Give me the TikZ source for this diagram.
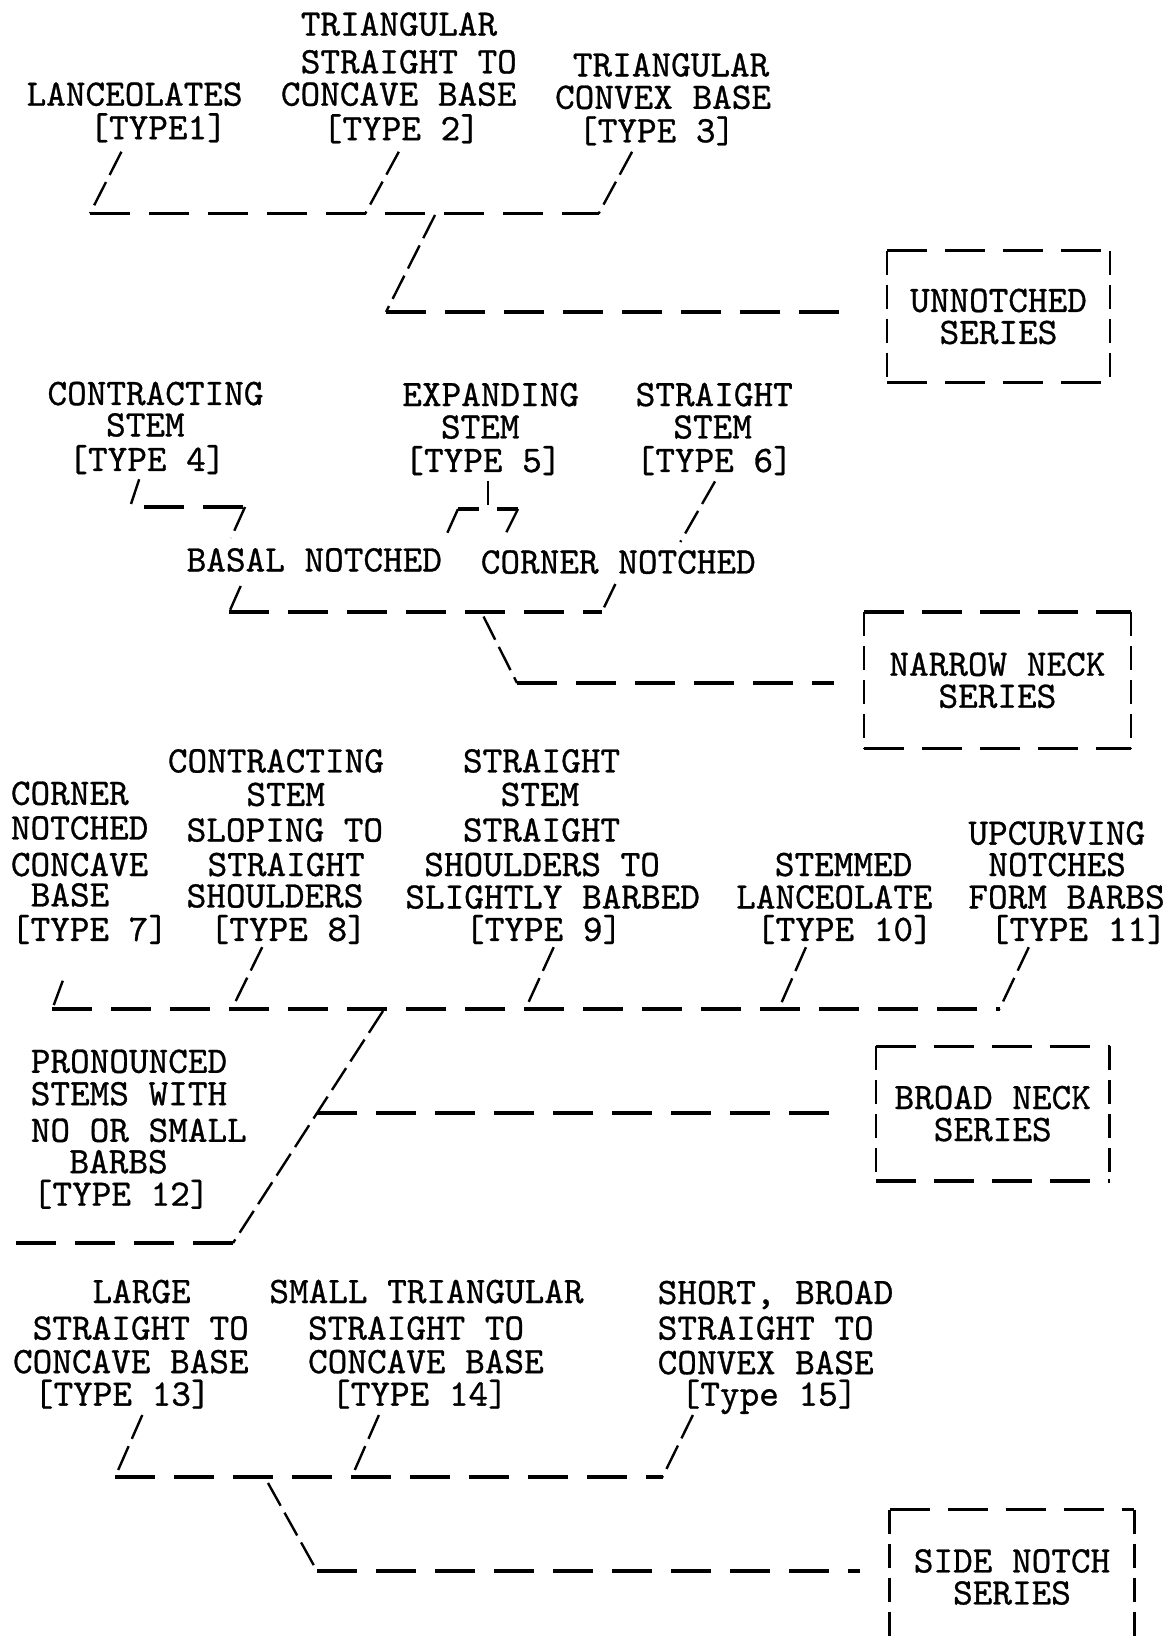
\documentclass[tikz,border=0pt]{standalone}
\usepackage{fontspec}
\newfontfamily\twf{lmmono10-regular.otf}[FakeBold=0.8]
\newcommand\tw{\fontsize{18.7pt}{16pt}\selectfont\twf}
\newcommand\Lb[4]{\node[lbl] (#1) at (#2,#3) {#4};}
\newcommand\DBox[1]{%
  \draw[boxh] (#1.north west) -- (#1.north east);
  \draw[boxh] (#1.south west) -- (#1.south east);
  \draw[boxv] (#1.north west) -- (#1.south west);
  \draw[boxv] (#1.north east) -- (#1.south east);}
\tikzset{
  lbl/.style={anchor=base west, inner sep=0pt, font=\tw, text height=11.5pt, text depth=0.5pt},
  hbar/.style={line width=1.7pt, dash pattern=on 20pt off 9.5pt},
  tobox/.style={hbar, shorten >=15pt},
  sl/.style={line width=1.2pt, dash pattern=on 13pt off 4pt},
  boxh/.style={line width=1.6pt, dash pattern=on 20pt off 9pt},
  boxv/.style={line width=1.25pt, dash pattern=on 12pt off 5pt},
  sbox/.style={inner sep=0pt, font=\tw, align=center},
}
\begin{document}
\begin{tikzpicture}[x=0.5pt,y=-0.5pt]
\fill[white] (0,0) rectangle (1168,1641);
\useasboundingbox (0,0) rectangle (1168,1641);

% ---------- boxes ----------
\node[sbox, minimum width=111pt, minimum height=65.5pt] (u) at (998.5,316.5) {UNNOTCHED\\SERIES};
\node[sbox, minimum width=133pt, minimum height=68pt] (n) at (997.4,680.3) {NARROW NECK\\SERIES};
\node[sbox, minimum width=116.5pt, minimum height=67pt] (b) at (992.7,1113.6) {BROAD NECK\\SERIES};
\node[sbox, minimum width=122pt, minimum height=67pt] (s) at (1012,1577) {SIDE NOTCH\\SERIES};
\DBox{u}\DBox{n}\DBox{b}\DBox{s}

% ---------- section 1 ----------
\Lb{a1}{26.2}{105.7}{LANCEOLATES}
\Lb{a2}{89}{139.2}{[TYPE1]}
\Lb{b1}{300.4}{35.6}{TRIANGULAR}
\Lb{b2}{300.4}{73.3}{STRAIGHT TO}
\Lb{b3}{280.5}{105.7}{CONCAVE BASE}
\Lb{b4}{322.4}{140.2}{[TYPE 2]}
\Lb{c1}{572.5}{76.4}{TRIANGULAR}
\Lb{c2}{554.7}{108.8}{CONVEX BASE}
\Lb{c3}{577.7}{142.3}{[TYPE 3]}

\coordinate (p1t) at (121.4,151.8); \coordinate (p1b) at (90,213.5);
\coordinate (p2t) at (398.8,151.8); \coordinate (p2b) at (365.3,213.5);
\coordinate (p3t) at (632.1,151.8); \coordinate (p3b) at (598.7,213.5);
\coordinate (q1t) at (435,215); \coordinate (q1b) at (386,312);
\draw[sl] (p1t) -- (p1b);
\draw[sl] (p2t) -- (p2b);
\draw[sl] (p3t) -- (p3b);
\draw[hbar] (p1b) -- (p3b);
\draw[sl] (q1t) -- (q1b);
\draw[tobox] (q1b) -- (q1b -| u.west);

% ---------- section 2 ----------
\Lb{d1}{47.1}{405}{CONTRACTING}
\Lb{d2}{105.7}{436.4}{STEM}
\Lb{d3}{68}{471}{[TYPE 4]}
\Lb{e1}{401.9}{406.1}{EXPANDING}
\Lb{e2}{440.6}{438.5}{STEM}
\Lb{e3}{404}{472}{[TYPE 5]}
\Lb{f1}{635.3}{406.1}{STRAIGHT}
\Lb{f2}{673}{438.5}{STEM}
\Lb{f3}{635.3}{472}{[TYPE 6]}
\Lb{g1}{186.3}{571.4}{BASAL NOTCHED}
\Lb{g2}{480.4}{573.5}{CORNER NOTCHED}

\coordinate (r4t) at (139.2,479.3); \coordinate (r4b) at (130,507);
\coordinate (r4h) at (144,507); \coordinate (r4c) at (245,507); \coordinate (r4d) at (231,538);
\draw[sl] (r4t) -- (r4b);
\draw[hbar] (r4h) -- (r4c);
\draw[sl] (r4c) -- (r4d);

\coordinate (v5t) at (487.7,481); \coordinate (v5b) at (487.7,505);
\coordinate (h5l) at (458,509); \coordinate (h5r) at (518,509);
\coordinate (l5b) at (445,538); \coordinate (r5b) at (503.5,538);
\draw[line width=1.2pt] (v5t) -- (v5b);
\draw[line width=1.7pt, dash pattern=on 10.5pt off 9pt] (h5l) -- (h5r);
\draw[sl] (h5l) -- (l5b);
\draw[sl] (h5r) -- (r5b);

\coordinate (v6t) at (715,481.4); \coordinate (v6b) at (680.3,542);
\draw[sl] (v6t) -- (v6b);

\coordinate (w1t) at (240.7,586); \coordinate (w1b) at (229.2,612);
\coordinate (w2t) at (615.4,584); \coordinate (w2b) at (601.8,612);
\draw[sl] (w1t) -- (w1b);
\draw[sl] (w2t) -- (w2b);
\draw[hbar] (w1b) -- (w2b);
\coordinate (x2t) at (483.5,616.5); \coordinate (x2b) at (517,683);
\draw[sl] (x2t) -- (x2b);
\draw[tobox] (x2b) -- (x2b -| n.west);

% ---------- section 3 ----------
\Lb{h1}{10.5}{804.8}{CORNER}
\Lb{h2}{10.5}{839.4}{NOTCHED}
\Lb{h3}{10.5}{876}{CONCAVE}
\Lb{h4}{30.4}{906.4}{BASE}
\Lb{h5}{10.5}{940.9}{[TYPE 7]}
\Lb{i1}{167.5}{772.4}{CONTRACTING}
\Lb{i2}{246}{805.9}{STEM}
\Lb{i3}{186.3}{841.5}{SLOPING TO}
\Lb{i4}{207.2}{876}{STRAIGHT}
\Lb{i5}{186.3}{907.4}{SHOULDERS}
\Lb{i6}{209.3}{940.9}{[TYPE 8]}
\Lb{j1}{462.6}{772.4}{STRAIGHT}
\Lb{j2}{500.3}{805.9}{STEM}
\Lb{j3}{462.6}{841.5}{STRAIGHT}
\Lb{j4}{423.9}{876}{SHOULDERS TO}
\Lb{j5}{405}{908.5}{SLIGHTLY BARBED}
\Lb{j6}{464.7}{940.9}{[TYPE 9]}
\Lb{k1}{774.5}{876}{STEMMED}
\Lb{k2}{735.8}{908.5}{LANCEOLATE}
\Lb{k3}{755.6}{940.9}{[TYPE 10]}
\Lb{l1}{968}{844.6}{UPCURVING}
\Lb{l2}{988}{876}{NOTCHES}
\Lb{l3}{968}{908.5}{FORM BARBS}
\Lb{l4}{989.5}{940.9}{[TYPE 11]}
\Lb{o1}{30.4}{1072.8}{PRONOUNCED}
\Lb{o2}{30.4}{1105.2}{STEMS WITH}
\Lb{o3}{30.4}{1141.8}{NO OR SMALL}
\Lb{o4}{69.1}{1173.2}{BARBS}
\Lb{o5}{32.4}{1205.7}{[TYPE 12]}

\coordinate (y7t) at (62.8,980.7);   \coordinate (y7b) at (52.3,1009);
\coordinate (y8t) at (262.2,947.2);  \coordinate (y8b) at (231.8,1009);
\coordinate (y9t) at (553.7,947.2);  \coordinate (y9b) at (525.4,1009);
\coordinate (y10t) at (805.9,947.2); \coordinate (y10b) at (778.7,1009);
\coordinate (y11t) at (1028.8,947.2);\coordinate (y11b) at (999.5,1009);
\draw[sl] (y7t) -- (y7b);
\draw[sl] (y8t) -- (y8b);
\draw[sl] (y9t) -- (y9b);
\draw[sl] (y10t) -- (y10b);
\draw[sl] (y11t) -- (y11b);
\draw[hbar] (y7b) -- (y11b);
\coordinate (z3t) at (383,1011); \coordinate (z3b) at (233,1243);
\coordinate (z3e) at (10,1243);
\path (z3t) -- (z3b) coordinate[pos=0.44] (z3j);
\draw[sl] (z3t) -- (z3b);
\draw[tobox] (z3j) -- (z3j -| b.west);
\draw[hbar] (z3b) -- (z3e);

% ---------- section 4 ----------
\Lb{m1}{92.1}{1303}{LARGE}
\Lb{m2}{32.4}{1339.6}{STRAIGHT TO}
\Lb{m3}{12.6}{1373.1}{CONCAVE BASE}
\Lb{m4}{33.5}{1405.6}{[TYPE 13]}
\Lb{s1}{269}{1303}{SMALL TRIANGULAR}
\Lb{s2}{307.7}{1339.6}{STRAIGHT TO}
\Lb{s3}{307.7}{1373.1}{CONCAVE BASE}
\Lb{s4}{330.7}{1405.6}{[TYPE 14]}
\Lb{t1}{657.3}{1304}{SHORT, BROAD}
\Lb{t2}{657.3}{1339.6}{STRAIGHT TO}
\Lb{t3}{657.3}{1374.1}{CONVEX BASE}
\Lb{t4}{680.3}{1405.6}{[Type 15]}

\coordinate (k13t) at (142.3,1415); \coordinate (k13b) at (115.1,1477);
\coordinate (k14t) at (378.9,1415); \coordinate (k14b) at (351.7,1477);
\coordinate (k15t) at (692.9,1415); \coordinate (k15b) at (662.5,1477);
\draw[sl] (k13t) -- (k13b);
\draw[sl] (k14t) -- (k14b);
\draw[sl] (k15t) -- (k15b);
\draw[hbar] (k13b) -- (k15b);
\coordinate (m4t) at (268,1483); \coordinate (m4b) at (317,1571);
\draw[sl] (m4t) -- (m4b);
\draw[tobox] (m4b) -- (m4b -| s.west);
\end{tikzpicture}
\end{document}
